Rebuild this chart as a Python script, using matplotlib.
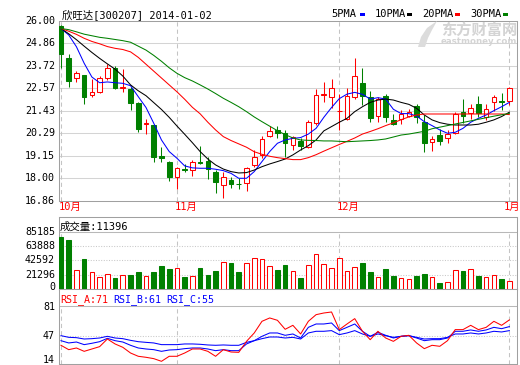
import numpy as np
import matplotlib
matplotlib.use("Agg")
import matplotlib.pyplot as plt
from matplotlib.patches import Rectangle, Polygon
from matplotlib.transforms import blended_transform_factory, offset_copy

W, H = 520, 365
MONO = ['DejaVu Sans Mono', 'Noto Sans CJK SC']

title = "欣旺达[300207] 2014-01-02"
month_labels = ["10月", "11月", "12月", "1月"]
month_idx = [0, 15, 36, 58]

# daily candles, 2013-10-11 .. 2014-01-02
opens = [25.75, 24.10, 23.08, 23.25, 22.24, 22.41, 23.08, 23.63, 22.61, 22.54,
         21.83, 20.78, 20.71, 19.14, 18.85, 18.08, 18.47, 18.42, 18.85, 18.90,
         18.34, 17.66, 17.92, 17.73, 17.74, 18.68, 19.19, 20.15, 20.46, 20.29,
         19.71, 19.90, 19.58, 20.80, 22.24, 22.12, 21.42, 21.02, 22.12, 22.83,
         22.12, 21.17, 22.19, 20.97, 21.02, 21.17, 21.69, 20.88, 19.86, 20.20,
         20.03, 20.29, 21.36, 21.31, 21.78, 21.14, 21.90, 21.93, 21.95]
highs = [25.78, 24.31, 23.47, 23.27, 23.03, 23.22, 23.80, 23.73, 23.56, 22.63,
         21.86, 21.02, 20.73, 19.59, 18.90, 18.59, 18.73, 18.93, 19.64, 19.10,
         18.42, 18.34, 18.08, 18.00, 18.55, 19.44, 20.15, 20.66, 20.66, 20.46,
         20.17, 20.03, 20.96, 22.54, 22.92, 23.05, 22.29, 22.61, 24.10, 23.59,
         22.44, 22.15, 22.29, 21.25, 21.47, 21.51, 21.76, 21.22, 20.15, 20.51,
         20.46, 21.39, 22.03, 21.76, 22.19, 21.76, 22.24, 22.32, 22.66]
lows = [23.62, 22.66, 22.92, 21.76, 22.15, 22.32, 23.00, 22.54, 22.37, 21.47,
        20.37, 20.25, 18.81, 18.85, 17.88, 17.46, 18.34, 18.14, 18.73, 17.97,
        17.27, 17.02, 17.49, 17.46, 17.35, 18.59, 19.05, 20.12, 20.03, 19.10,
        19.45, 19.44, 19.53, 20.71, 21.90, 21.56, 20.46, 20.97, 22.05, 21.73,
        20.88, 20.88, 20.88, 20.71, 20.75, 21.14, 20.80, 19.36, 19.39, 19.69,
        19.78, 20.24, 20.80, 21.02, 21.14, 20.97, 21.42, 21.47, 21.73]
closes = [24.31, 22.97, 23.34, 22.12, 22.40, 23.12, 23.59, 22.61, 22.63, 21.84,
          20.51, 20.80, 19.10, 19.02, 18.08, 18.51, 18.41, 18.83, 18.76, 18.47,
          17.80, 18.05, 17.71, 17.69, 18.51, 19.07, 19.98, 20.41, 20.29, 19.81,
          20.12, 19.62, 20.87, 22.24, 22.29, 22.58, 21.44, 22.20, 23.22, 22.19,
          21.05, 22.03, 21.14, 20.75, 21.27, 21.39, 21.14, 19.78, 20.00, 19.92,
          20.24, 21.29, 21.19, 21.59, 21.31, 21.51, 22.15, 21.86, 22.61]

ma5 = [25.62, 25.29, 24.69, 23.85, 23.15, 22.86, 22.90, 22.86, 22.83, 22.71,
       22.15, 21.60, 20.80, 19.95, 19.36, 19.02, 18.63, 18.53, 18.51, 18.51,
       18.46, 18.39, 18.25, 18.00, 18.00, 18.34, 18.85, 19.36, 19.78, 19.95,
       20.03, 20.07, 20.25, 20.54, 21.10, 21.60, 22.05, 22.28, 22.37, 22.27,
       22.03, 22.10, 22.03, 21.51, 21.29, 21.29, 21.17, 20.88, 20.68, 20.46,
       20.29, 20.34, 20.54, 20.85, 21.05, 21.22, 21.44, 21.64, 21.86]
ma10 = [25.62, 25.35, 25.05, 24.72, 24.40, 24.10, 23.82, 23.55, 23.20, 22.75,
        22.45, 22.20, 21.85, 21.50, 21.10, 20.66, 20.24, 19.81, 19.36, 18.98,
        18.68, 18.47, 18.34, 18.27, 18.29, 18.42, 18.59, 18.73, 18.85, 18.98,
        19.19, 19.44, 19.66, 19.95, 20.41, 20.63, 20.85, 21.05, 21.39, 21.64,
        21.86, 21.98, 22.03, 21.98, 21.86, 21.76, 21.56, 21.22, 20.97, 20.83,
        20.75, 20.71, 20.71, 20.71, 20.75, 20.85, 20.97, 21.14, 21.36]
ma20 = [25.62, 25.48, 25.32, 25.12, 24.96, 24.84, 24.70, 24.61, 24.55, 24.43,
        24.15, 23.80, 23.45, 23.10, 22.75, 22.40, 22.02, 21.61, 21.28, 20.85,
        20.46, 20.12, 19.92, 19.75, 19.58, 19.35, 19.22, 19.12, 19.05, 19.00,
        18.95, 18.95, 19.05, 19.20, 19.38, 19.55, 19.72, 19.88, 20.05, 20.25,
        20.38, 20.52, 20.68, 20.82, 20.98, 21.12, 21.22, 21.27, 21.27, 21.27,
        21.27, 21.27, 21.27, 21.27, 21.27, 21.27, 21.27, 21.27, 21.24]
ma30 = [25.62, 25.56, 25.45, 25.33, 25.25, 25.17, 25.12, 25.06, 25.00, 24.92,
        24.72, 24.52, 24.25, 23.95, 23.62, 23.34, 23.12, 22.95, 22.75, 22.54,
        22.31, 22.07, 21.86, 21.64, 21.39, 21.12, 20.88, 20.65, 20.42, 20.22,
        20.05, 19.95, 19.93, 19.92, 19.90, 19.90, 19.88, 19.86, 19.88, 19.90,
        19.92, 19.95, 20.00, 20.10, 20.20, 20.25, 20.32, 20.39, 20.52, 20.60,
        20.68, 20.76, 20.84, 20.92, 21.00, 21.08, 21.16, 21.23, 21.30]

volume = [77150, 72150, 28560, 45090, 25550, 17540, 22040, 16530, 20540, 21040,
          25550, 19040, 25550, 34570, 30060, 31060, 18040, 19040, 31560, 21040,
          27050, 40080, 38080, 25550, 38580, 46090, 44080, 34150, 28200, 35640,
          26730, 16300, 35640, 52000, 37100, 30700, 45540, 26700, 32200, 38600,
          25250, 17300, 29700, 19300, 15840, 14350, 19300, 22300, 17800, 8900,
          9900, 27700, 26700, 29200, 19300, 17300, 20300, 14350, 11396]

rsi_a = [33.1, 26.6, 29.1, 24.1, 27.6, 31.1, 42.5, 35.1, 30.1, 21.6,
         16.7, 15.2, 13.2, 9.2, 16.7, 16.7, 21.6, 27.6, 27.6, 24.1,
         16.7, 26.6, 23.1, 22.6, 39.0, 51.5, 68.9, 73.9, 70.4, 57.0,
         62.9, 50.0, 68.9, 78.8, 81.3, 82.8, 56.5, 64.9, 72.9, 54.0,
         41.5, 54.0, 44.0, 39.0, 46.5, 48.0, 36.6, 28.1, 33.1, 31.6,
         40.0, 56.5, 56.5, 62.9, 56.5, 59.9, 68.9, 62.9, 71.0]
rsi_b = [40.0, 36.6, 38.0, 34.1, 36.1, 38.5, 43.5, 40.0, 38.0, 33.1,
         29.1, 27.6, 26.6, 24.1, 26.1, 26.6, 28.1, 29.1, 29.1, 27.6,
         25.1, 26.6, 25.1, 25.1, 35.1, 40.0, 46.5, 51.5, 51.5, 48.0,
         50.0, 44.0, 59.9, 64.9, 64.9, 66.4, 55.0, 59.9, 64.9, 54.0,
         46.5, 52.5, 48.0, 44.0, 46.5, 47.5, 44.0, 40.0, 41.5, 41.5,
         44.0, 54.0, 54.0, 56.0, 54.0, 56.0, 59.9, 57.9, 61.0]
rsi_c = [47.5, 45.0, 44.5, 42.5, 43.0, 44.0, 46.5, 44.0, 43.0, 40.5,
         38.5, 37.5, 36.6, 34.1, 34.1, 34.1, 35.1, 35.1, 34.6, 33.6,
         33.1, 33.6, 33.1, 33.1, 37.5, 40.0, 43.0, 45.5, 45.5, 44.0,
         45.0, 42.5, 51.5, 54.0, 54.0, 55.0, 49.0, 51.5, 55.0, 50.0,
         46.5, 50.0, 47.5, 45.0, 46.5, 47.5, 45.0, 42.5, 43.0, 43.0,
         45.0, 50.0, 50.0, 51.5, 50.0, 51.5, 54.0, 53.0, 55.0]

price_ticks = [16.86, 18.00, 19.15, 20.29, 21.43, 22.57, 23.72, 24.86, 26.00]
vol_ticks = [0, 21296, 42592, 63888, 85185]
rsi_ticks = [14, 47, 81]

RED, GREEN, BLUE = '#ff0000', '#008000', '#0000ff'
FRAME = '#a0a0a0'
LW = 0.75

fig = plt.figure(figsize=(W / 100, H / 100), dpi=100)
fig.patch.set_facecolor('white')


def px_axes(x0, y0, x1, y1):
    return fig.add_axes([x0 / W, 1 - y1 / H, (x1 - x0) / W, (y1 - y0) / H])


def style(ax):
    for s in ax.spines.values():
        s.set_color(FRAME)
        s.set_linewidth(LW)
    ax.set_xticks([])
    ax.set_yticks([])
    ax.set_xlim(-0.32, 58.99)


def left_labels(ax, values, texts, dys):
    trans = blended_transform_factory(ax.transAxes, ax.transData)
    for v, t, dy in zip(values, texts, dys):
        tr = offset_copy(trans, fig=fig, x=-3.5, y=dy, units='dots')
        ax.text(0, v, t, transform=tr, ha='right', va='center',
                fontsize=7.2, family=MONO, color='black')


ax_k = px_axes(58.5, 21, 517, 200.7)
ax_v = px_axes(58.5, 216.7, 517, 289)
ax_r = px_axes(58.5, 289, 517, 364)
for ax in (ax_k, ax_v, ax_r):
    style(ax)

idx = np.arange(len(closes))
o = np.array(opens)
c = np.array(closes)
up = c >= o
cols = np.where(up, RED, GREEN)
faces = np.where(up, 'white', GREEN)

# ---- price panel
ax_k.set_ylim(16.86, 26.00)
for t in price_ticks[1:-1]:
    ax_k.axhline(t, color='#d4d4d4', lw=LW, zorder=0)
for m in month_idx:
    ax_k.axvline(m, color='#c4c4c4', lw=LW, ls=(0, (4, 3)), zorder=0)
ax_k.vlines(idx, lows, highs, colors=cols, lw=LW, zorder=2)
body_h = np.maximum(np.abs(c - o), 0.02)
ax_k.bar(idx, body_h, bottom=np.minimum(o, c), width=0.6,
         color=faces, edgecolor=cols, lw=LW, zorder=3)
ax_k.plot(idx, ma5, color=BLUE, lw=LW, zorder=4)
ax_k.plot(idx, ma10, color='black', lw=LW, zorder=4)
ax_k.plot(idx, ma20, color=RED, lw=LW, zorder=4)
ax_k.plot(idx, ma30, color=GREEN, lw=LW, zorder=4)
left_labels(ax_k, price_ticks, [f"{t:.2f}" for t in price_ticks], [0] * 9)

# month labels; the last one is pulled in so it stays inside the picture
month_dx = [-2.5, -2.5, -2.5, -5.5]
for m, lab, dx in zip(month_idx, month_labels, month_dx):
    ax_k.annotate(lab, xy=(m, 0), xycoords=('data', 'axes fraction'),
                  xytext=(dx, -6), textcoords='offset pixels',
                  ha='left', va='center', color=RED, fontsize=7.5,
                  family=MONO, annotation_clip=False)

# ---- volume panel
ax_v.set_ylim(0, 107485)
ax_v.axhline(vol_ticks[-1], color='#b8b8b8', lw=LW, zorder=0)
for t in vol_ticks[1:-1]:
    ax_v.axhline(t, color='#c8c8c8', lw=LW, ls=(0, (1, 1.5)), zorder=0)
ax_v.vlines(month_idx, 0, vol_ticks[-1], colors='#c4c4c4', lw=LW,
            linestyles=(0, (4, 3)), zorder=0)
ax_v.bar(idx, volume, width=0.6, color=faces, edgecolor=cols, lw=LW, zorder=3)
left_labels(ax_v, vol_ticks, [str(t) for t in vol_ticks], [2.5, 0, 0, 0, 0])
ax_v.annotate(f"成交量:{volume[-1]}", xy=(0, 1), xycoords='axes fraction',
              xytext=(1.5, -9.5), textcoords='offset pixels', ha='left',
              va='center', fontsize=7.5, family=MONO, color='black')

# ---- RSI panel
ax_r.set_ylim(5.2, 117.1)
sep = 92.2
ax_r.axhline(sep, color='#b8b8b8', lw=LW, zorder=0)
ax_r.axhline(47, color='#c8c8c8', lw=LW, ls=(0, (1, 1.5)), zorder=0)
ax_r.vlines(month_idx, 5.2, sep, colors='#c4c4c4', lw=LW,
            linestyles=(0, (4, 3)), zorder=0)
ax_r.plot(idx, rsi_c, color=BLUE, lw=LW, zorder=3)
ax_r.plot(idx, rsi_b, color=BLUE, lw=LW, zorder=3)
ax_r.plot(idx, rsi_a, color=RED, lw=LW, zorder=4)
left_labels(ax_r, rsi_ticks, [str(t) for t in rsi_ticks], [-2, -0.5, 6.5])
for dx, txt, col in [(1.5, f"RSI_A:{rsi_a[-1]:.0f}", RED),
                     (54.8, f"RSI_B:{rsi_b[-1]:.0f}", BLUE),
                     (108.2, f"RSI_C:{rsi_c[-1]:.0f}", BLUE)]:
    ax_r.annotate(txt, xy=(0, 1), xycoords='axes fraction', xytext=(dx, -11),
                  textcoords='offset pixels', ha='left', va='center',
                  fontsize=7.2, family=MONO, color=col)

# ---- header
fig.text(61.7 / W, 1 - 14.3 / H, title, ha='left', va='center',
         fontsize=7.5, family=MONO)
legend = [("5PMA", 331.7, 360, BLUE), ("10PMA", 375, 406.7, 'black'),
          ("20PMA", 422.7, 455, RED), ("30PMA", 470.7, 503.3, GREEN)]
for txt, xt, xr, col in legend:
    fig.text(xt / W, 1 - 14.3 / H, txt, ha='left', va='center',
             fontsize=7.5, family=MONO)
    fig.add_artist(Rectangle((xr / W, 1 - 15.5 / H), 5 / W, 3 / H,
                             transform=fig.transFigure, color=col, lw=0))

# watermark
logo = [(418, 47), (421, 37), (427, 28), (437, 21), (432, 30), (428, 38), (425, 47)]
fig.add_artist(Polygon([(x / W, 1 - y / H) for x, y in logo], closed=True,
                       transform=fig.transFigure, color='#dcdcdc', lw=0))
fig.text(479 / W, 1 - 30 / H, "东方财富网", ha='center', va='center',
         fontsize=11, fontweight='bold', color='#d4d4d4',
         family='Noto Sans CJK SC')
fig.text(479 / W, 1 - 42 / H, "eastmoney.com", ha='center', va='center',
         fontsize=6.2, fontweight='bold', color='#d4d4d4', family='DejaVu Sans')

fig.savefig("out.png", dpi=100, facecolor='white')
